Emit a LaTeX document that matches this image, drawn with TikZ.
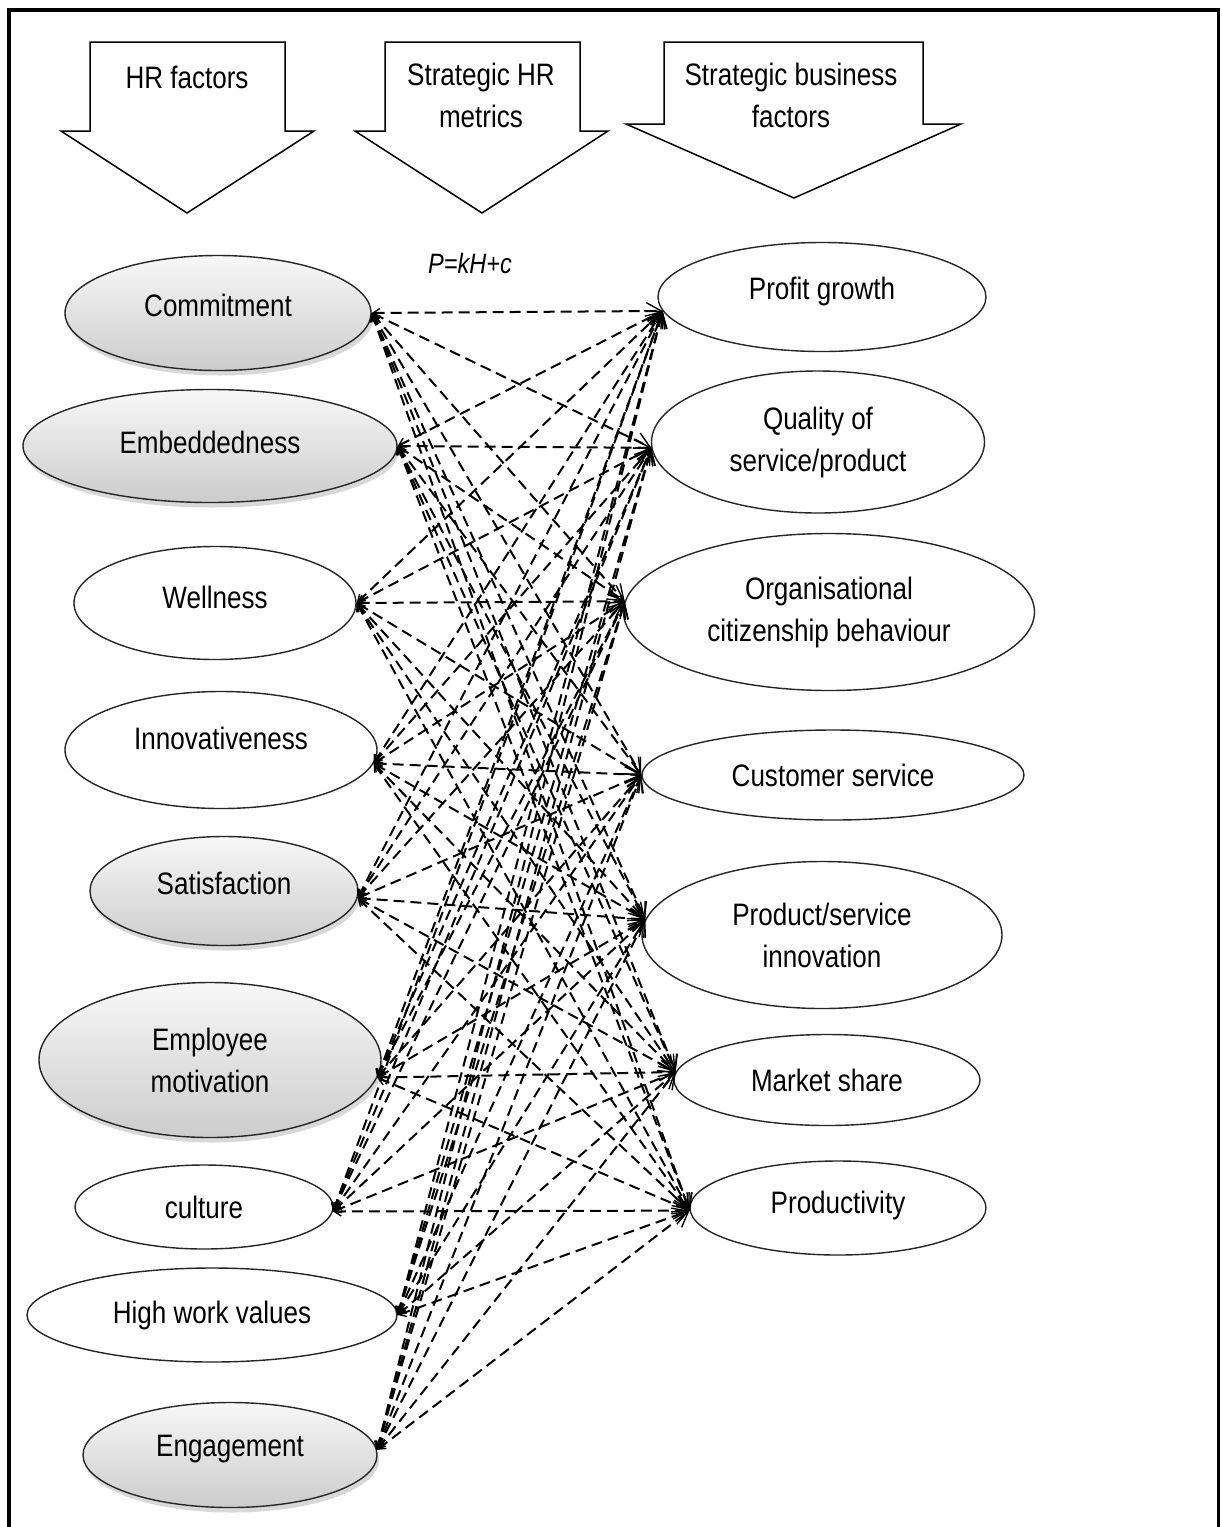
\documentclass[tikz,border=0pt]{standalone}
\usepackage{fontspec}
\setmainfont{Liberation Sans}[FakeStretch=0.84]
\usetikzlibrary{shapes.geometric,arrows.meta,shadows,calc}
\newcommand\lift[2]{\raisebox{#1}[\height][\depth]{#2}}
\begin{document}
\begin{tikzpicture}[x=1pt,y=-1pt,
  lbl/.style={font=\fontsize{31}{42}\selectfont, align=center, text=black},
  oval/.style={ellipse, draw=black!85, line width=1.4pt, inner sep=0pt, lbl},
  grayoval/.style={oval, top color=gray!6, bottom color=gray!40,
     drop shadow={shadow xshift=2pt, shadow yshift=-5pt, opacity=0.3}},
  whiteoval/.style={oval, fill=white},
  link/.style={line width=2pt, dash pattern=on 11pt off 6pt,
     {Straight Barb[length=7pt,width=9pt,line width=1.4pt]}-{Straight Barb[length=15pt,width=17pt,line width=1.4pt]}},
  blockarrow/.style={draw=black, line width=1.5pt, fill=white, line join=miter},
]
\useasboundingbox (0,0) rectangle (1222,1527);
\fill[white] (0,0) rectangle (1222,1527);
% frame (open at the bottom)
\draw[line width=3.5pt] (9,1545) -- (9,10) -- (1218.5,10) -- (1218.5,1545);

% header block arrows
\draw[blockarrow] (90,42) -- (285,42) -- (285,131) -- (314,131) -- (187,213) -- (61,131) -- (90,131) -- cycle;
\draw[blockarrow] (385,42) -- (580,42) -- (580,131) -- (608,131) -- (482,213) -- (355,131) -- (385,131) -- cycle;
\draw[blockarrow] (664,42) -- (923,42) -- (923,124) -- (961,124) -- (794,198) -- (626,124) -- (664,124) -- cycle;
\node[lbl] (h1) at (187,77) {HR factors};
\node[lbl] (h2) at (481,95) {Strategic HR\\metrics};
\node[lbl] (h3) at (791,95) {Strategic business\\factors};

\node[font=\fontsize{28}{34}\selectfont\itshape] (eq) at (470,263) {P=kH+c};

% HR factors
\node[grayoval, minimum width=306pt, minimum height=115pt] (commit) at (218,313) {\lift{8pt}{Commitment}};
\node[grayoval, minimum width=374pt, minimum height=113pt] (embed) at (210,446) {\lift{4pt}{Embeddedness}};
\node[whiteoval, minimum width=282pt, minimum height=113pt] (well) at (215,603) {\lift{6pt}{Wellness}};
\node[whiteoval, minimum width=312pt, minimum height=117pt] (innov) at (221,750) {\lift{12pt}{Innovativeness}};
\node[grayoval, minimum width=268pt, minimum height=109pt] (satis) at (224,891) {\lift{8pt}{Satisfaction}};
\node[grayoval, minimum width=342pt, minimum height=155pt] (emp) at (210,1060) {Employee\\motivation};
\node[whiteoval, minimum width=258pt, minimum height=84pt] (cult) at (204,1207) {culture};
\node[whiteoval, minimum width=370pt, minimum height=94pt] (high) at (212,1315) {High work values};
\node[grayoval, minimum width=294pt, minimum height=105pt] (engage) at (230,1455) {\lift{6pt}{Engagement}};

% strategic business factors
\node[whiteoval, minimum width=328pt, minimum height=109pt] (profit) at (822,297) {\lift{6pt}{Profit growth}};
\node[whiteoval, minimum width=333pt, minimum height=142pt] (quality) at (818,442) {Quality of\\service/product};
\node[whiteoval, minimum width=411pt, minimum height=157pt] (org) at (829,612) {Organisational\\citizenship behaviour};
\node[whiteoval, minimum width=382pt, minimum height=90pt] (cust) at (833,775) {Customer service};
\node[whiteoval, minimum width=360pt, minimum height=147pt] (prodinn) at (822,935) {Product/service\\innovation};
\node[whiteoval, minimum width=306pt, minimum height=91pt] (market) at (827,1080) {Market share};
\node[whiteoval, minimum width=296pt, minimum height=94pt] (product) at (838,1208) {\lift{3pt}{Productivity}};

% connection points
\coordinate (commit-p) at (commit.east);
\coordinate (embed-p) at (embed.east);
\coordinate (well-p) at (well.east);
\coordinate (innov-p) at (innov.-5);
\coordinate (satis-p) at (satis.-3);
\coordinate (emp-p) at (emp.-6);
\coordinate (cult-p) at (cult.-2);
\coordinate (high-p) at (high.east);
\coordinate (engage-p) at (engage.2);
\coordinate (profit-p) at (profit.185);
\coordinate (quality-p) at (quality.182);
\coordinate (org-p) at (org.177);
\coordinate (cust-p) at (cust.west);
\coordinate (prodinn-p) at (prodinn.175);
\coordinate (market-p) at (market.177);
\coordinate (product-p) at (product.181);

\foreach \a in {commit,embed,well,innov,satis,emp,cult,high,engage}{
  \foreach \b in {profit,quality,org,cust,prodinn,market,product}{
    \draw[link] (\a-p) -- (\b-p);
  }
}
\end{tikzpicture}
\end{document}
